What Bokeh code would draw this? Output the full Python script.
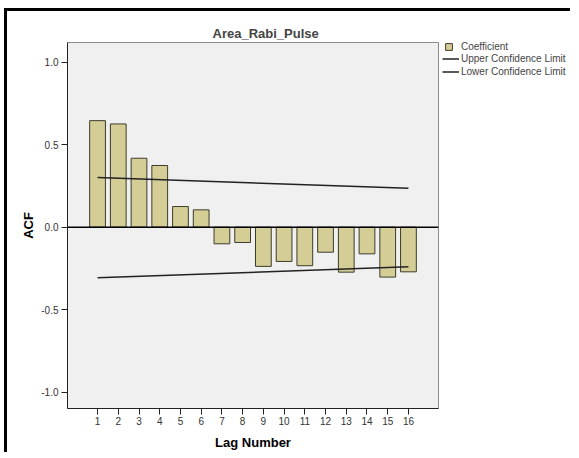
from bokeh.plotting import figure
from bokeh.layouts import row
from bokeh.models import Span, Legend, LegendItem, FixedTicker, Range1d, ColumnDataSource
from bokeh.embed import file_html
from bokeh.resources import INLINE

# ---- data ----
lags = list(range(1, 17))
acf = [0.646, 0.626, 0.418, 0.374, 0.125, 0.105, -0.101, -0.093,
       -0.238, -0.208, -0.234, -0.152, -0.273, -0.162, -0.303, -0.271]
conf_lags = [1, 16]
upper_limit = [0.301, 0.236]
lower_limit = [-0.307, -0.240]
y_ticks = [-1.0, -0.5, 0.0, 0.5, 1.0]
y_tick_labels = ["-1.0", "-0.5", "0.0", "0.5", "1.0"]
chart_title = "Area_Rabi_Pulse"
series_names = ["Coefficient", "Upper Confidence Limit", "Lower Confidence Limit"]

FONT = "Liberation Sans"
BAR_FILL = "#d4ce96"
BAR_LINE = "#3d3b2c"
LINE_COLOR = "#222222"
NAN = float("nan")

fig = figure(frame_width=371, frame_height=366,
             x_range=Range1d(-0.45, 17.45), y_range=Range1d(-1.10, 1.12),
             output_backend="svg", toolbar_location=None,
             min_border_left=60, min_border_top=31, min_border_right=2,
             min_border_bottom=40)

fig.background_fill_color = "#f0f0f0"
fig.border_fill_color = "white"
fig.outline_line_color = "#8a8a8a"
fig.grid.visible = False

src = ColumnDataSource(dict(lag=lags, acf=acf))
fig.vbar(x="lag", top="acf", bottom=0, width=0.76, source=src,
         fill_color=BAR_FILL, line_color=BAR_LINE, line_width=1)

fig.add_layout(Span(location=0, dimension="width", line_color="black", line_width=1.5))

fig.line(conf_lags, upper_limit, line_color=LINE_COLOR, line_width=1.5)
fig.line(conf_lags, lower_limit, line_color=LINE_COLOR, line_width=1.5)

# title
fig.title.text = chart_title
fig.title.align = "left"
fig.title.offset = 145
fig.title.text_font = FONT
fig.title.text_font_size = "13px"
fig.title.text_font_style = "bold"
fig.title.standoff = 3

# axes
fig.xaxis.ticker = FixedTicker(ticks=lags)
fig.yaxis.ticker = FixedTicker(ticks=y_ticks)
fig.yaxis.major_label_overrides = {t: l for t, l in zip(y_ticks, y_tick_labels)}
for ax in (fig.xaxis[0], fig.yaxis[0]):
    ax.axis_line_color = LINE_COLOR
    ax.major_tick_line_color = LINE_COLOR
    ax.major_tick_in = 0
    ax.major_tick_out = 6
    ax.minor_tick_line_color = None
    ax.major_label_text_font = FONT
    ax.major_label_text_font_size = "10px"
    ax.major_label_text_color = "#333333"
    ax.axis_label_text_font = FONT
    ax.axis_label_text_font_size = "13px"
    ax.axis_label_text_font_style = "bold"
    ax.axis_label_text_color = "black"
fig.xaxis.axis_label = "Lag Number"
fig.yaxis.axis_label = "ACF"
fig.xaxis.major_label_standoff = 2
fig.yaxis.major_label_standoff = 3
fig.xaxis.axis_label_standoff = 7
fig.yaxis.axis_label_standoff = 2

# ---- legend panel (separate small figure to the right of the plot) ----
lf = figure(frame_width=130, frame_height=80, x_range=Range1d(0, 1), y_range=Range1d(0, 1),
            output_backend="svg", toolbar_location=None,
            min_border_left=0, min_border_right=0, min_border_top=0, min_border_bottom=0)
lf.axis.visible = False
lf.grid.visible = False
lf.outline_line_color = None
lf.background_fill_color = "white"
lf.border_fill_color = "white"

# legend proxies: NaN data, so they draw nothing in the panel, only legend glyphs
proxy = lf.scatter(x=[NAN], y=[NAN], marker="square", size=7,
                   fill_color=BAR_FILL, line_color=BAR_LINE)
up_proxy = lf.line(x=[NAN, NAN], y=[NAN, NAN], line_color=LINE_COLOR, line_width=1.5)
lo_proxy = lf.line(x=[NAN, NAN], y=[NAN, NAN], line_color=LINE_COLOR, line_width=1.5)

leg1 = Legend(items=[LegendItem(label=series_names[0], renderers=[proxy])],
              location=(0, 36), glyph_width=17, glyph_height=17,
              label_height=17, label_standoff=4, padding=0, margin=0, spacing=0,
              border_line_color=None, background_fill_alpha=0,
              label_text_font=FONT, label_text_font_size="10px")
leg2 = Legend(items=[LegendItem(label=series_names[1], renderers=[up_proxy]),
                     LegendItem(label=series_names[2], renderers=[lo_proxy])],
              location=(2, 13), glyph_width=17, glyph_height=13,
              label_height=13, label_standoff=2, padding=0, margin=0, spacing=0,
              border_line_color=None, background_fill_alpha=0,
              label_text_font=FONT, label_text_font_size="10px")
lf.add_layout(leg1)
lf.add_layout(leg2)

p = row(fig, lf)
p.styles = {"margin-top": "8px", "margin-left": "4px",
            "border-top": "3px solid black", "border-left": "3px solid black"}

open("out.html", "w").write(file_html(p, INLINE))
